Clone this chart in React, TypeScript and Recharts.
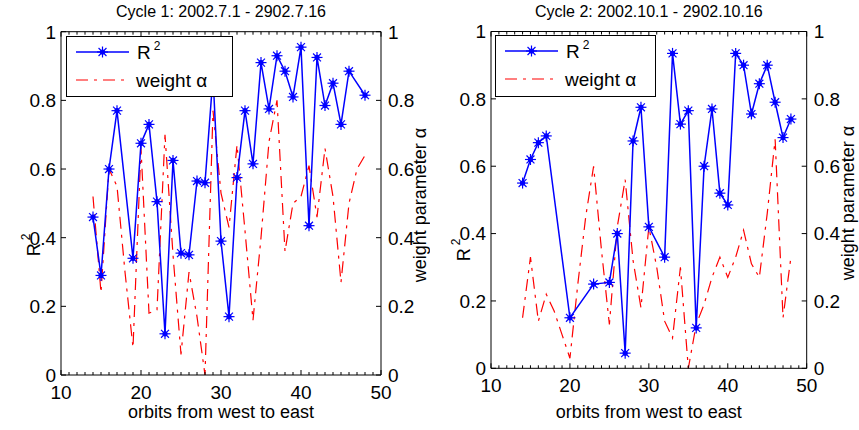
import React from "react";
import { ComposedChart, Line, XAxis, YAxis, Legend } from "recharts";

// orbit numbers (x), shared by both cycles
const orbits = [
  14, 15, 16, 17, 18, 19, 20, 21, 22, 23, 24, 25, 26, 27, 28, 29, 30, 31, 32, 33, 34,
  35, 36, 37, 38, 39, 40, 41, 42, 43, 44, 45, 46, 47, 48,
];

// Cycle 1
const r2Cycle1 = [
  0.46, 0.29, 0.6, 0.77, null, 0.34, 0.675, 0.73, 0.505, 0.12, 0.625, 0.355, 0.35, 0.565,
  0.56, 0.87, 0.39, 0.17, 0.575, 0.77, 0.615, 0.91, 0.775, 0.93, 0.885, 0.81, 0.955, 0.435,
  0.925, 0.785, 0.85, 0.73, 0.885, null, 0.815,
];
const alphaCycle1 = [
  0.52, 0.24, 0.6, 0.55, 0.3, 0.08, 0.66, 0.18, 0.19, 0.7, 0.35, 0.06, 0.3, 0.17, 0.0, 0.77,
  0.53, 0.43, 0.67, 0.42, 0.16, 0.4, 0.68, 0.8, 0.36, 0.5, 0.52, 0.61, 0.46, 0.66, 0.52, 0.27,
  0.5, 0.6, 0.64,
];

// Cycle 2
const r2Cycle2 = [
  0.55, 0.62, 0.67, 0.69, null, null, 0.15, null, null, 0.25, null, 0.255, 0.4, 0.045, 0.675,
  0.775, 0.42, null, 0.33, 0.935, 0.725, 0.765, 0.12, 0.6, 0.77, 0.52, 0.485, 0.935, 0.9,
  0.755, 0.845, 0.9, 0.79, 0.685, 0.74,
];
const alphaCycle2 = [
  0.15, 0.33, 0.14, 0.22, 0.17, 0.1, 0.03, 0.25, 0.45, 0.6, 0.35, 0.13, 0.42, 0.56, 0.32,
  0.18, 0.42, 0.3, 0.14, 0.09, 0.3, 0.0, 0.13, 0.19, 0.27, 0.33, 0.27, 0.33, 0.41, 0.31, 0.27,
  0.46, 0.68, 0.15, 0.33,
];

const xMajorTicks = [10, 20, 30, 40, 50];
const xAllTicks = Array.from({ length: 41 }, (_, i) => 10 + i);
const yTicks = [0, 0.2, 0.4, 0.6, 0.8, 1];

const FONT = "'Liberation Sans', Arial, Helvetica, sans-serif";
const BLUE = "#0000ff";
const RED = "#ff0000";
const DASHDOT = "12 6 3 6";
const TICK_FS = 19;
const LABEL_FS = 18;

const fmt = (v: number) => (v === 0 ? "0" : v === 1 ? "1" : String(v));

const StarDot = (props: any) => {
  const { cx, cy, value, index } = props;
  if (value == null || cx == null || cy == null) return null;
  const r = 5.5;
  const d = r * 0.72;
  return (
    <g key={`star-${index}`} stroke={BLUE} strokeWidth={1.2}>
      <line x1={cx - r} y1={cy} x2={cx + r} y2={cy} />
      <line x1={cx} y1={cy - r} x2={cx} y2={cy + r} />
      <line x1={cx - d} y1={cy - d} x2={cx + d} y2={cy + d} />
      <line x1={cx - d} y1={cy + d} x2={cx + d} y2={cy - d} />
      <circle cx={cx} cy={cy} r={2} fill={BLUE} />
    </g>
  );
};

type Geo = {
  width: number;
  L: number;
  R: number;
  T: number;
  B: number;
  legend: { left: number; top: number; width: number; height: number };
  r2LabelY: number;
  alphaLabelX: number;
  alphaLabelY: number;
};

const LegendBox = ({ w, h }: { w: number; h: number }) => (
  <div
    style={{
      width: w,
      height: h,
      border: "1px solid #000",
      background: "#fff",
      boxSizing: "border-box",
    }}
  >
    <svg width={w - 2} height={h - 2} style={{ display: "block" }}>
      <line x1={9} y1={15} x2={62} y2={15} stroke={BLUE} strokeWidth={1.5} />
      <StarDot cx={35.5} cy={15} value={1} index={0} />
      <text x={70} y={22} fontFamily={FONT} fontSize={19} fill="#000">
        R<tspan dx={3} dy={-9} fontSize={12}>2</tspan>
      </text>
      <line
        x1={9}
        y1={43}
        x2={62}
        y2={43}
        stroke={RED}
        strokeWidth={1.2}
        strokeDasharray={DASHDOT}
      />
      <text x={69} y={50} fontFamily={FONT} fontSize={19} fill="#000">
        weight α
      </text>
    </svg>
  </div>
);

const Panel = ({
  title,
  r2,
  alpha,
  g,
}: {
  title: string;
  r2: (number | null)[];
  alpha: number[];
  g: Geo;
}) => {
  const height = 430;
  const axisW = 30;
  const axisH = 30;
  const data = orbits.map((o, i) => ({ orbit: o, r2: r2[i], alpha: alpha[i] }));
  const cxMid = (g.L + g.R) / 2;

  const BottomTick = (p: any) => {
    const v = p.payload.value;
    const major = xMajorTicks.includes(v);
    return (
      <g>
        <line x1={p.x} x2={p.x} y1={g.B} y2={g.B - (major ? 5 : 3)} stroke="#000" />
        {major && (
          <text x={p.x} y={g.B + 24} textAnchor="middle" fontFamily={FONT} fontSize={TICK_FS} fill="#000">
            {v}
          </text>
        )}
      </g>
    );
  };
  const TopTick = (p: any) => {
    const major = xMajorTicks.includes(p.payload.value);
    return <line x1={p.x} x2={p.x} y1={g.T} y2={g.T + (major ? 5 : 3)} stroke="#000" />;
  };
  const LeftTick = (p: any) => (
    <g>
      <line x1={g.L} x2={g.L + 5} y1={p.y} y2={p.y} stroke="#000" />
      <text x={g.L - 5} y={p.y} dy="0.36em" textAnchor="end" fontFamily={FONT} fontSize={TICK_FS} fill="#000">
        {fmt(p.payload.value)}
      </text>
    </g>
  );
  const RightTick = (p: any) => (
    <g>
      <line x1={g.R - 5} x2={g.R} y1={p.y} y2={p.y} stroke="#000" />
      <text x={g.R + 7} y={p.y} dy="0.36em" textAnchor="start" fontFamily={FONT} fontSize={TICK_FS} fill="#000">
        {fmt(p.payload.value)}
      </text>
    </g>
  );

  return (
    <ComposedChart
      width={g.width}
      height={height}
      data={data}
      margin={{
        top: g.T - 1,
        left: g.L - axisW,
        right: g.width - g.R - axisW,
        bottom: height - g.B - axisH,
      }}
    >
      <XAxis
        dataKey="orbit"
        type="number"
        domain={[10, 50]}
        ticks={xAllTicks}
        interval={0}
        height={axisH}
        tickLine={false}
        tickSize={0}
        axisLine={{ stroke: "#000" }}
        tick={BottomTick}
        label={() => (
          <text x={cxMid} y={418} textAnchor="middle" fontFamily={FONT} fontSize={LABEL_FS} fill="#000">
            orbits from west to east
          </text>
        )}
      />
      <XAxis
        xAxisId="top"
        orientation="top"
        dataKey="orbit"
        type="number"
        domain={[10, 50]}
        ticks={xAllTicks}
        interval={0}
        height={1}
        tickLine={false}
        tickSize={0}
        axisLine={{ stroke: "#000" }}
        tick={TopTick}
        label={() => (
          <text x={cxMid} y={17} textAnchor="middle" fontFamily={FONT} fontSize={16} fill="#000">
            {title}
          </text>
        )}
      />
      <YAxis
        yAxisId="left"
        domain={[0, 1]}
        ticks={yTicks}
        interval={0}
        width={axisW}
        tickLine={false}
        axisLine={{ stroke: "#000" }}
        tick={LeftTick}
        label={() => (
          <text
            x={34}
            y={g.r2LabelY}
            transform={`rotate(-90, 34, ${g.r2LabelY})`}
            textAnchor="middle"
            dominantBaseline="central"
            fontFamily={FONT}
            fontSize={LABEL_FS}
            fill="#000"
          >
            R<tspan dx={3} dy={-8} fontSize={12}>2</tspan>
          </text>
        )}
      />
      <YAxis
        yAxisId="right"
        orientation="right"
        domain={[0, 1]}
        ticks={yTicks}
        interval={0}
        width={axisW}
        tickLine={false}
        axisLine={{ stroke: "#000" }}
        tick={RightTick}
        label={() => (
          <text
            x={g.alphaLabelX}
            y={g.alphaLabelY}
            transform={`rotate(-90, ${g.alphaLabelX}, ${g.alphaLabelY})`}
            textAnchor="middle"
            dominantBaseline="central"
            fontFamily={FONT}
            fontSize={LABEL_FS}
            fill="#000"
          >
            weight parameter α
          </text>
        )}
      />
      <Line
        yAxisId="right"
        dataKey="alpha"
        type="linear"
        stroke={RED}
        strokeWidth={1.2}
        strokeDasharray={DASHDOT}
        dot={false}
        activeDot={false}
        isAnimationActive={false}
      />
      <Line
        yAxisId="left"
        dataKey="r2"
        type="linear"
        stroke={BLUE}
        strokeWidth={1.5}
        connectNulls
        dot={StarDot}
        activeDot={false}
        isAnimationActive={false}
      />
      <Legend
        layout="horizontal"
        verticalAlign="middle"
        align="center"
        wrapperStyle={{
          position: "absolute",
          left: g.legend.left,
          top: g.legend.top,
          width: g.legend.width,
          height: g.legend.height,
          zIndex: 5,
        }}
        content={() => <LegendBox w={g.legend.width} h={g.legend.height} />}
      />
    </ComposedChart>
  );
};

const leftGeo: Geo = {
  width: 430,
  L: 61,
  R: 381,
  T: 31.7,
  B: 375,
  legend: { left: 66, top: 36, width: 167, height: 61 },
  r2LabelY: 245,
  alphaLabelX: 420,
  alphaLabelY: 205,
};

const rightGeo: Geo = {
  width: 429,
  L: 61,
  R: 376.7,
  T: 31.5,
  B: 368.3,
  legend: { left: 65, top: 35, width: 161, height: 62 },
  r2LabelY: 250,
  alphaLabelX: 418,
  alphaLabelY: 203,
};

export default function App() {
  return (
    <div
      style={{
        position: "absolute",
        left: 0,
        top: 0,
        width: 859,
        height: 430,
        background: "#fff",
        overflow: "hidden",
      }}
    >
      <div style={{ position: "absolute", left: 0, top: 0 }}>
        <Panel title="Cycle 1: 2002.7.1 - 2902.7.16" r2={r2Cycle1} alpha={alphaCycle1} g={leftGeo} />
      </div>
      <div style={{ position: "absolute", left: 430, top: 0 }}>
        <Panel title="Cycle 2: 2002.10.1 - 2902.10.16" r2={r2Cycle2} alpha={alphaCycle2} g={rightGeo} />
      </div>
    </div>
  );
}
